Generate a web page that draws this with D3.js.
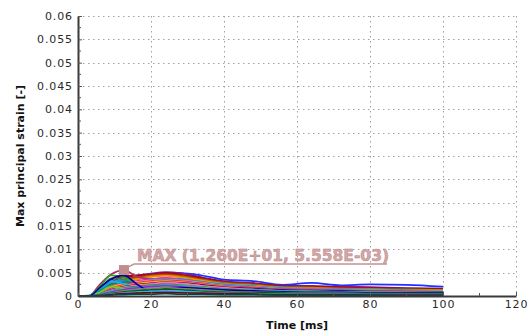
<!DOCTYPE html>
<html>
<head>
<meta charset="utf-8">
<script src="https://cdn.jsdelivr.net/npm/d3@7"></script>
<style>
  body { margin: 0; background: #fff; }
  svg { display: block; font-family: "DejaVu Sans", Verdana, sans-serif; }
</style>
</head>
<body>
<div id="chart"></div>
<script>
// sample times (ms)
var times = [0, 3, 6, 9, 12.6, 16, 20, 24, 28, 34, 40, 48, 56, 64, 72, 80, 90, 100];

// strain curves
var sBlue    = [0, 0, .0008, .0020, .0030, .0036, .0042, .0048, .0049, .0044, .0035, .0032, .0024, .0028, .0023, .0025, .0024, .0020];
var sPurple  = [0, 0, .0012, .0030, .0040, .0044, .0048, .0051, .0049, .0040, .0032, .0028, .0022, .0022, .0020, .0019, .0017, .0016];
var sDkRed   = [0, 0, .0014, .0034, .0042, .0044, .0046, .0049, .0046, .0038, .0030, .0026, .0021, .0020, .0018, .0017, .0016, .0015];
var sRed     = [0, 0, .0010, .0026, .0036, .0040, .0045, .0047, .0044, .0036, .0029, .0025, .0020, .0019, .0017, .0016, .0014, .0013];
var sOlive   = [0, 0, .0009, .0028, .0034, .0038, .0043, .0045, .0042, .0035, .0028, .0024, .0019, .0018, .0016, .0015, .0014, .0013];
var sOrange  = [0, 0, .0008, .0022, .0032, .0036, .0041, .0043, .0040, .0033, .0026, .0022, .0018, .0017, .0015, .0014, .0013, .0012];
var sMax     = [0, 0, .0025, .0046, .005558, .0042, .0036, .0032, .0028, .0024, .0020, .0017, .0015, .0014, .0013, .0012, .0011, .0010];
var sGreen   = [0, .0001, .0020, .0044, .0040, .0030, .0036, .0038, .0036, .0030, .0024, .0020, .0016, .0015, .0014, .0013, .0012, .0011];
var sMagenta = [0, 0, .0006, .0018, .0028, .0032, .0036, .0039, .0036, .0030, .0023, .0020, .0016, .0015, .0013, .0012, .0011, .0010];
var sDodger  = [0, 0, .0012, .0029, .0033, .0030, .0034, .0037, .0035, .0030, .0025, .0021, .0017, .0016, .0015, .0014, .0012, .0011];
var sGold    = [0, 0, .0007, .0019, .0026, .0030, .0033, .0035, .0033, .0028, .0022, .0019, .0015, .0014, .0013, .0012, .0011, .0010];
var sSea     = [0, 0, .0013, .0038, .0035, .0026, .0029, .0031, .0029, .0024, .0019, .0016, .0013, .0012, .0011, .0010, .0009, .0008];
var sTeal    = [0, 0, .0010, .0024, .0030, .0026, .0030, .0033, .0031, .0026, .0021, .0018, .0014, .0013, .0012, .0011, .0010, .0009];
var sHotPink = [0, 0, .0006, .0016, .0024, .0028, .0032, .0034, .0032, .0027, .0021, .0018, .0014, .0014, .0012, .0011, .0010, .0009];
var sYellow  = [0, 0, .0005, .0014, .0022, .0026, .0030, .0032, .0030, .0025, .0020, .0016, .0013, .0012, .0011, .0010, .0009, .0008];
var sCyan    = [0, .0001, .0016, .0032, .0026, .0020, .0024, .0028, .0026, .0022, .0018, .0015, .0013, .0012, .0011, .0010, .0009, .0009];
var sIndigo  = [0, 0, .0005, .0013, .0020, .0024, .0027, .0030, .0028, .0024, .0019, .0016, .0013, .0012, .0011, .0010, .0009, .0008];
var sPink    = [0, 0, .0004, .0012, .0019, .0023, .0026, .0029, .0027, .0022, .0018, .0014, .0011, .0010, .0009, .0009, .0008, .0007];
var sBrown   = [0, 0, .0003, .0010, .0017, .0020, .0023, .0025, .0023, .0019, .0015, .0012, .0010, .0009, .0008, .0008, .0007, .0006];
var sAqua    = [0, 0, .0004, .0011, .0016, .0019, .0022, .0024, .0023, .0019, .0015, .0013, .0011, .0010, .0009, .0008, .0008, .0007];
var sLime    = [0, 0, .0008, .0020, .0016, .0013, .0018, .0021, .0020, .0017, .0013, .0011, .0009, .0008, .0007, .0007, .0006, .0006];
var sViolet  = [0, 0, .0003, .0008, .0014, .0017, .0020, .0022, .0020, .0016, .0013, .0010, .0008, .0007, .0007, .0006, .0006, .0005];
var sNavy    = [0, 0, .0018, .0036, .0044, .0026, .0010, .0016, .0018, .0016, .0013, .0011, .0009, .0008, .0008, .0007, .0007, .0006];
var sGrey    = [0, 0, .0002, .0006, .0011, .0014, .0016, .0018, .0016, .0013, .0010, .0008, .0007, .0006, .0006, .0005, .0005, .0004];
var sDkGreen = [0, 0, .0002, .0005, .0009, .0011, .0013, .0014, .0013, .0010, .0008, .0007, .0006, .0005, .0005, .0004, .0004, .0004];
var sSky     = [0, 0, .0001, .0004, .0007, .0008, .0010, .0011, .0010, .0008, .0006, .0005, .0004, .0004, .0004, .0003, .0003, .0003];
var sMaroon  = [0, 0, .0001, .0003, .0005, .0006, .0007, .0008, .0007, .0006, .0005, .0004, .0003, .0003, .0003, .0002, .0002, .0002];
var sDkTeal  = [0, 0, .00005, .0002, .0003, .0004, .0004, .0005, .0004, .0004, .0003, .0003, .0002, .0002, .0002, .0002, .0001, .0001];

var seriesList = [
  { values: sBlue,    color: '#2030ff' },
  { values: sPurple,  color: '#7a1fa0' },
  { values: sDkRed,   color: '#a00000' },
  { values: sRed,     color: '#e01010' },
  { values: sOlive,   color: '#808000' },
  { values: sOrange,  color: '#ff8c00' },
  { values: sMax,     color: '#b03060' },
  { values: sGreen,   color: '#2ca02c' },
  { values: sMagenta, color: '#e020d0' },
  { values: sDodger,  color: '#1e90ff' },
  { values: sGold,    color: '#ffb000' },
  { values: sSea,     color: '#2e8b57' },
  { values: sTeal,    color: '#008080' },
  { values: sHotPink, color: '#ff1493' },
  { values: sYellow,  color: '#d8c800' },
  { values: sCyan,    color: '#00c0e0' },
  { values: sIndigo,  color: '#4b0082' },
  { values: sPink,    color: '#ff6fa8' },
  { values: sBrown,   color: '#8b4513' },
  { values: sAqua,    color: '#20b2aa' },
  { values: sLime,    color: '#70d020' },
  { values: sViolet,  color: '#8a2be2' },
  { values: sNavy,    color: '#000090' },
  { values: sGrey,    color: '#808080' },
  { values: sDkGreen, color: '#006400' },
  { values: sSky,     color: '#40a0ff' },
  { values: sMaroon,  color: '#800000' },
  { values: sDkTeal,  color: '#004848' }
];

// maximum point annotation
var maxPoint = { t: 12.6, v: 0.005558 };
var maxLabel = 'MAX (1.260E+01, 5.558E-03)';

// tick labels
var xTicks = [0, 20, 40, 60, 80, 100, 120];
var xMinor = [10, 30, 50, 70, 90, 110];
var yTicks = [0, 0.005, 0.01, 0.015, 0.02, 0.025, 0.03, 0.035, 0.04, 0.045, 0.05, 0.055, 0.06];
var yTickLabels = ['0', '0.005', '0.01', '0.015', '0.02', '0.025', '0.03', '0.035', '0.04', '0.045', '0.05', '0.055', '0.06'];
var yMinor = [0.0025, 0.0075, 0.0125, 0.0175, 0.0225, 0.0275, 0.0325, 0.0375, 0.0425, 0.0475, 0.0525, 0.0575];

var width = 532, height = 333;
var plotLeft = 78, plotRight = 516, plotTop = 16, plotBottom = 296;

var x = d3.scaleLinear().domain([0, 120]).range([plotLeft, plotRight]);
var y = d3.scaleLinear().domain([0, 0.06]).range([plotBottom, plotTop]);

var svg = d3.select('#chart').append('svg')
  .attr('width', width)
  .attr('height', height);

/* grid */
var grid = svg.append('g').attr('class', 'grid')
  .attr('stroke', '#a0a0a0')
  .attr('stroke-width', 1)
  .attr('stroke-dasharray', '1.5,3.5');

grid.selectAll('.gy')
  .data(yTicks.filter(d => d > 0)).enter()
  .append('line')
  .attr('x1', plotLeft).attr('x2', plotRight)
  .attr('y1', d => Math.round(y(d)) + 0.5)
  .attr('y2', d => Math.round(y(d)) + 0.5);

grid.selectAll('.gx')
  .data(xTicks.filter(d => d > 0)).enter()
  .append('line')
  .attr('y1', plotTop).attr('y2', plotBottom)
  .attr('x1', d => Math.round(x(d)) + 0.5)
  .attr('x2', d => Math.round(x(d)) + 0.5);

/* curves */
svg.append('clipPath').attr('id', 'clip')
  .append('rect')
  .attr('x', plotLeft).attr('y', plotTop)
  .attr('width', plotRight - plotLeft).attr('height', plotBottom - plotTop);

var line = d3.line()
  .x((d, i) => x(times[i]))
  .y(d => y(d))
  .curve(d3.curveMonotoneX);

svg.append('g')
  .attr('clip-path', 'url(#clip)')
  .selectAll('path')
  .data(seriesList).enter()
  .append('path')
  .attr('d', d => line(d.values))
  .attr('fill', 'none')
  .attr('stroke', d => d.color)
  .attr('stroke-width', 1.7)
  .attr('stroke-linejoin', 'round');

/* axes */
var yAxis = d3.axisLeft(y).tickValues(yTicks)
  .tickFormat((d, i) => yTickLabels[i])
  .tickSizeInner(-4).tickSizeOuter(0).tickPadding(5);
var yAxisG = svg.append('g')
  .attr('transform', `translate(${plotLeft},0)`)
  .call(yAxis);

var xAxis = d3.axisBottom(x).tickValues(xTicks)
  .tickSizeInner(-4).tickSizeOuter(0).tickPadding(4);
var xAxisG = svg.append('g')
  .attr('transform', `translate(0,${plotBottom})`)
  .call(xAxis);

[yAxisG, xAxisG].forEach(function (g) {
  g.select('.domain').attr('stroke', '#3a3a3a').attr('stroke-width', 2);
  g.selectAll('.tick line').attr('stroke', '#555');
  g.selectAll('.tick text')
    .attr('font-family', '"DejaVu Sans", Verdana, sans-serif')
    .attr('font-size', 11)
    .attr('letter-spacing', 0.9)
    .attr('fill', '#2a2a2a');
});

// minor ticks
svg.append('g').selectAll('line')
  .data(yMinor).enter()
  .append('line')
  .attr('x1', plotLeft).attr('x2', plotLeft + 3)
  .attr('y1', d => y(d)).attr('y2', d => y(d))
  .attr('stroke', '#555');
svg.append('g').selectAll('line')
  .data(xMinor).enter()
  .append('line')
  .attr('x1', d => x(d)).attr('x2', d => x(d))
  .attr('y1', plotBottom).attr('y2', plotBottom - 3)
  .attr('stroke', '#555');

/* max annotation */
var mx = x(maxPoint.t), my = y(maxPoint.v);
var ann = svg.append('g');
ann.append('path')
  .attr('d', `M${mx + 4},${my - 3} L${mx + 10},${my - 6} L${mx + 263},${my - 6}`)
  .attr('fill', 'none')
  .attr('stroke', '#c49292')
  .attr('stroke-width', 1.5);
ann.append('rect')
  .attr('x', mx - 5).attr('y', my - 5)
  .attr('width', 10).attr('height', 10)
  .attr('fill', '#c08c8c');
ann.append('text')
  .attr('x', mx + 13)
  .attr('y', my - 9)
  .attr('font-size', 15.5)
  .attr('font-weight', 'bold')
  .attr('fill', '#d2a8a8')
  .attr('stroke', '#b88585')
  .attr('stroke-width', 0.5)
  .text(maxLabel);

/* axis titles */
svg.append('text')
  .attr('x', (plotLeft + plotRight) / 2)
  .attr('y', 329)
  .attr('text-anchor', 'middle')
  .attr('font-size', 11)
  .attr('font-weight', 'bold')
  .attr('fill', '#111')
  .text('Time [ms]');

svg.append('text')
  .attr('transform', `translate(24,${(plotTop + plotBottom) / 2}) rotate(-90)`)
  .attr('text-anchor', 'middle')
  .attr('font-size', 11)
  .attr('font-weight', 'bold')
  .attr('fill', '#111')
  .text('Max principal strain [-]');
</script>
</body>
</html>
